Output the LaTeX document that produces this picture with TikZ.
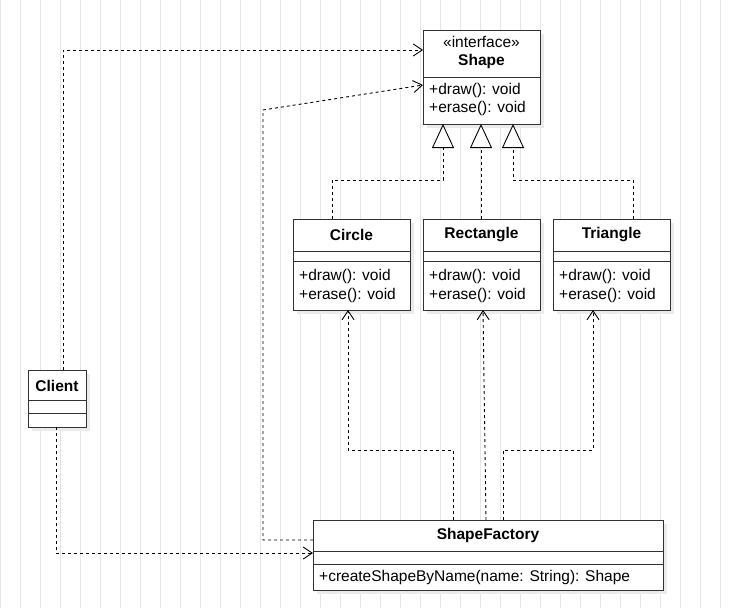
\documentclass[tikz,border=0pt]{standalone}
\usepackage{fontspec}
\setmainfont{Liberation Sans}
\usetikzlibrary{arrows.meta}
\begin{document}
\begin{tikzpicture}[x=1pt,y=-1pt,
  box/.style={draw=black!80,line width=1pt,fill=white},
  shad/.style={fill=black!8,draw=none},
  dep/.style={dashed,line width=0.9pt,-{Straight Barb[length=9pt,width=12pt]}},
  real/.style={dashed,line width=0.9pt,-{Triangle[open,length=24pt,width=22pt,fill=white]}},
  txt/.style={font=\fontsize{15.5}{17}\selectfont,inner sep=0pt},
  bold/.style={font=\fontsize{15.5}{17}\selectfont\bfseries,inner sep=0pt}]
\useasboundingbox (0,0) rectangle (730,608);
\fill[white] (0,0) rectangle (730,608);
\draw[black!10,line width=0.6pt] (0,0) grid[step=20] (730,608);
% shadows
\foreach \a/\b/\c/\d in {423/30/540/124,293/219/410/310,423/219/540/310,553/219/670/310,28/370/86/427,313/520/663/590}
  \fill[shad] (\a+4,\b+4) rectangle (\c+4,\d+4);
% Shape
\draw[box] (423,30) rectangle (540,124);
\draw[black!80,line width=1pt] (423,77) -- (540,77);
\node[txt] (sst) at (481.5,42) {«interface»};
\node[bold] (sname) at (481.5,61) {Shape};
\node[txt,anchor=west] (sm1) at (429,90) {+draw(): void};
\node[txt,anchor=west] (sm2) at (429,108) {+erase(): void};
\coordinate (S1) at (423,50); \coordinate (S2) at (423,85);
% subclasses
\foreach \n/\x in {Circle/293,Rectangle/423,Triangle/553}{
  \draw[box] (\x,219) rectangle (\x+117,310);
  \draw[black!80,line width=1pt] (\x,251) -- (\x+117,251) (\x,261) -- (\x+117,261);
  \node[bold] (\n) at (\x+58.5,235) {\n};
  \node[txt,anchor=west] (\n m1) at (\x+6,276) {+draw(): void};
  \node[txt,anchor=west] (\n m2) at (\x+6,295) {+erase(): void};
}
% Client
\draw[box] (28,370) rectangle (86,427);
\draw[black!80,line width=1pt] (28,400) -- (86,400) (28,413) -- (86,413);
\node[bold] (client) at (57,386) {Client};
% ShapeFactory
\draw[box] (313,520) rectangle (663,590);
\draw[black!80,line width=1pt] (313,551) -- (663,551) (313,564) -- (663,564);
\node[bold] (sf) at (488,535) {ShapeFactory};
\node[txt,anchor=west] (sfm) at (319,577) {+createShapeByName(name: String): Shape};
% realizations
\coordinate (c0) at (332,219); \coordinate (t0) at (633,219);
\draw[real] (c0) -- (332,180) -- (443,180) -- (443,124);
\draw[real] (481,219) -- (481,124);
\draw[real] (t0) -- (633,180) -- (513,180) -- (513,124);
% dependencies
\draw[dep] (63,370) -- (63,50) -- (S1);
\draw[dep] (313,540) -- (263,540) -- (263,110) -- (S2);
\draw[dep] (56,427) -- (56,553) -- (313,553);
\draw[dep] (453,520) -- (453,450) -- (348,450) -- (348,310);
\draw[dep] (486,520) -- (483,310);
\draw[dep] (503,520) -- (503,450) -- (593,450) -- (593,310);
\end{tikzpicture}
\end{document}
